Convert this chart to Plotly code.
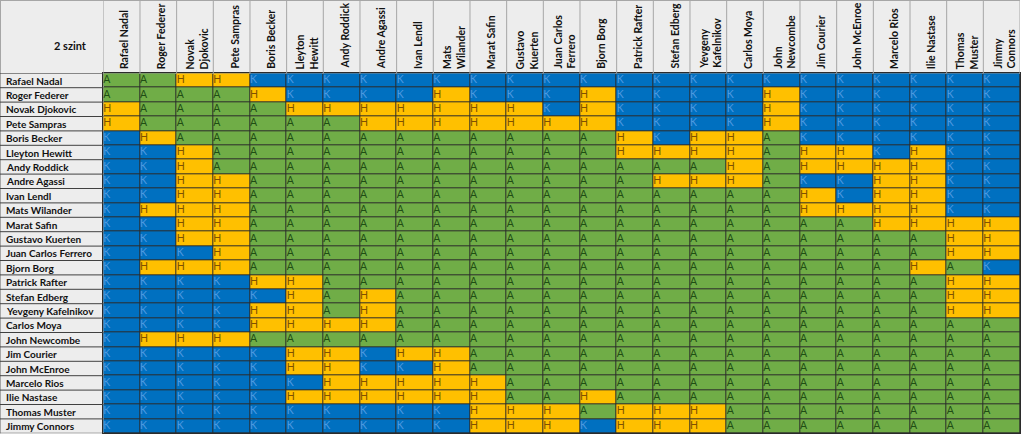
import plotly.graph_objects as go

players = ["Rafael Nadal", "Roger Federer", "Novak Djokovic", "Pete Sampras", "Boris Becker",
           "Lleyton Hewitt", "Andy Roddick", "Andre Agassi", "Ivan Lendl", "Mats Wilander",
           "Marat Safin", "Gustavo Kuerten", "Juan Carlos Ferrero", "Bjorn Borg", "Patrick Rafter",
           "Stefan Edberg", "Yevgeny Kafelnikov", "Carlos Moya", "John Newcombe", "Jim Courier",
           "John McEnroe", "Marcelo Rios", "Ilie Nastase", "Thomas Muster", "Jimmy Connors"]

column_labels = ["Rafael Nadal", "Roger Federer", "Novak<br>Djokovic", "Pete Sampras", "Boris Becker",
                 "Lleyton<br>Hewitt", "Andy Roddick", "Andre Agassi", "Ivan Lendl", "Mats<br>Wilander",
                 "Marat Safin", "Gustavo<br>Kuerten", "Juan Carlos<br>Ferrero", "Bjorn Borg", "Patrick Rafter",
                 "Stefan Edberg", "Yevgeny<br>Kafelnikov", "Carlos Moya", "John<br>Newcombe", "Jim Courier",
                 "John McEnroe", "Marcelo Rios", "Ilie Nastase", "Thomas<br>Muster", "Jimmy<br>Connors"]

corner_title = "2 szint"

grades = [
    "AAHHKKKKKKKKKKKKKKKKKKKKK",
    "AAAAHKKKKHKKKHKKKKHKKKKKK",
    "HAAAAHHHHHHHKHKKKKHKKKKKK",
    "HAAAAAAHHHHHHHKKKKHKKKKKK",
    "KHAAAAAAAAAAAAHKHHAKKKKKK",
    "KKHAAAAAAAAAAAHHHHAHHKHKK",
    "KKHAAAAAAAAAAAAAAHAHHHHKK",
    "KKHHAAAAAAAAAAAHHHAKKHHKK",
    "KKHHAAAAAAAAAAAAAAAHKHHKK",
    "KHHHAAAAAAAAAAAAAAAHHHHKK",
    "KKHHAAAAAAAAAAAAAAAAAHHHH",
    "KKHHAAAAAAAAAAAAAAAAAAAHH",
    "KKKHAAAAAAAAAAAAAAAAAAAHH",
    "KHHHAAAAAAAAAAAAAAAAAAHAK",
    "KKKKHHAAAAAAAAAAAAAAAAAHH",
    "KKKKKHAHAAAAAAAAAAAAAAAHH",
    "KKKKHHAHAAAAAAAAAAAAAAAHH",
    "KKKKHHHHAAAAAAAAAAAAAAAAA",
    "KHHHAAAAAAAAAAAAAAAAAAAAA",
    "KKKKKHHKHHAAAAAAAAAAAAAAA",
    "KKKKKHHKKHAAAAAAAAAAAAAAA",
    "KKKKKKHHHHHAAAAAAAAAAAAAA",
    "KKKKKHHHHHHAAHAAAAAAAAAAA",
    "KKKKKKKKKKHHHAHHHAAAAAAAA",
    "KKKKKKKKKKHHHKHHHAAAAAAAA",
]

grade_codes = {"A": 0, "H": 1, "K": 2}
cell_colors = {"A": "#70AD47", "H": "#FFC000", "K": "#0070C0"}
letter_colors = {"A": "#1F4E14", "H": "#7F5200", "K": "#4F9AE0"}

W, H = 1023, 436
left_px, right_px = 103.3, 1020.0
top_px, bottom_px = 73.3, 433.3

n = len(players)
idx = list(range(n))
z = [[grade_codes[g] for g in row] for row in grades]

fig = go.Figure()
fig.add_trace(go.Heatmap(
    z=z, x=idx, y=idx, zmin=0, zmax=2, showscale=False, hoverinfo="skip",
    xgap=1, ygap=1,
    colorscale=[[0, cell_colors["A"]], [0.333, cell_colors["A"]],
                [0.333, cell_colors["H"]], [0.667, cell_colors["H"]],
                [0.667, cell_colors["K"]], [1, cell_colors["K"]]],
))

for letter in ["A", "H", "K"]:
    xs, ys = [], []
    for r, row in enumerate(grades):
        for c, g in enumerate(row):
            if g == letter:
                xs.append(c - 0.5)
                ys.append(r)
    fig.add_trace(go.Scatter(
        x=xs, y=ys, mode="text", text=[letter] * len(xs), textposition="middle right",
        textfont=dict(family="Lato", size=10.5, color=letter_colors[letter]),
        hoverinfo="skip", showlegend=False,
    ))

shapes = []
shapes.append(dict(type="rect", xref="paper", yref="paper", x0=0, x1=right_px / W,
                   y0=1 - top_px / H, y1=1, fillcolor="#EDEDED", line=dict(width=0), layer="below"))
shapes.append(dict(type="rect", xref="paper", yref="paper", x0=0, x1=left_px / W,
                   y0=1 - bottom_px / H, y1=1 - top_px / H, fillcolor="#EDEDED", line=dict(width=0), layer="below"))
for c in range(-1, n):
    shapes.append(dict(type="line", xref="x", yref="paper", x0=c + 0.5, x1=c + 0.5,
                       y0=1 - top_px / H, y1=1, line=dict(color="#A6A6A6", width=1)))
shapes.append(dict(type="line", xref="paper", yref="paper", x0=0, x1=right_px / W,
                   y0=1 - 0.5 / H, y1=1 - 0.5 / H, line=dict(color="#A6A6A6", width=1)))
shapes.append(dict(type="line", xref="paper", yref="paper", x0=0.5 / W, x1=0.5 / W,
                   y0=1 - bottom_px / H, y1=1, line=dict(color="#A6A6A6", width=1)))
for r in range(-1, n):
    shapes.append(dict(type="line", xref="paper", yref="y", x0=0, x1=left_px / W,
                       y0=r + 0.5, y1=r + 0.5, line=dict(color="#404040", width=1)))

annotations = [dict(text="<b>" + corner_title + "</b>", xref="paper", yref="paper",
                    x=(left_px / 2) / W, y=1 - 37 / H, showarrow=False,
                    font=dict(family="Lato", size=11, color="#111111"))]
for c, lab in enumerate(column_labels):
    annotations.append(dict(text="<b>" + lab + "</b>", xref="x", yref="paper", x=c + 0.08,
                            y=1 - 71 / H, xanchor="center", yanchor="bottom", textangle=-90,
                            align="left", showarrow=False,
                            font=dict(family="Lato", size=10.5, color="#111111")))
for r, name in enumerate(players):
    annotations.append(dict(text="<b>" + name + "</b>", xref="paper", yref="y", x=4 / W, y=r,
                            xanchor="left", yanchor="middle", showarrow=False,
                            font=dict(family="Lato", size=10, color="#111111")))

fig.update_layout(
    width=W, height=H, margin=dict(l=0, r=0, t=0, b=0),
    paper_bgcolor="white", plot_bgcolor="#2B2B2B",
    xaxis=dict(domain=[left_px / W, right_px / W], range=[-0.5, n - 0.5], showticklabels=False,
               showgrid=False, zeroline=False, ticks="", showline=True, mirror=True,
               linecolor="#2B2B2B", linewidth=1),
    yaxis=dict(domain=[1 - bottom_px / H, 1 - top_px / H], range=[n - 0.5, -0.5], showticklabels=False,
               showgrid=False, zeroline=False, ticks="", showline=True, mirror=True,
               linecolor="#2B2B2B", linewidth=1),
    shapes=shapes, annotations=annotations, showlegend=False,
)

fig.write_html("out.html", config={"displayModeBar": False},
               post_script="document.body.style.margin='0';document.body.style.overflow='hidden';")
